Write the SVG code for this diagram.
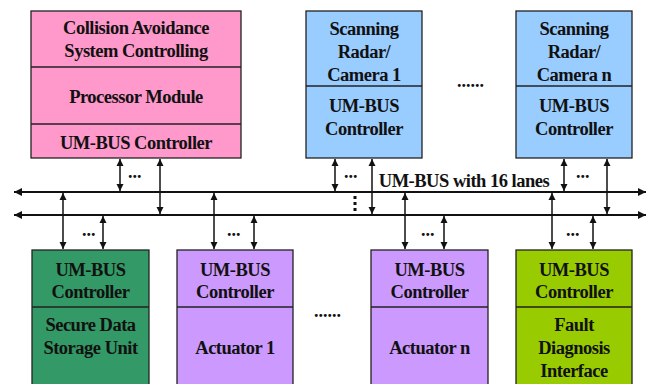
<svg xmlns="http://www.w3.org/2000/svg" width="654" height="384" viewBox="0 0 654 384">
  <style>
    .box { stroke: #222; stroke-width: 1.3; }
    .div { stroke: #222; stroke-width: 1.3; }
    .t { font-family: "Liberation Serif", "Times New Roman", serif; font-weight: bold; font-size: 18.5px; letter-spacing: -0.5px; fill: #111; text-anchor: middle; }
    .dots { font-family: "Liberation Serif", "Times New Roman", serif; font-weight: bold; font-size: 18px; fill: #111; }
    .link { stroke: #111; stroke-width: 1.5; fill: none; marker-start: url(#ah); marker-end: url(#ah); }
    .bus { stroke: #111; stroke-width: 2.2; fill: none; marker-start: url(#bh); marker-end: url(#bh); }
  </style>
  <defs>
    <marker id="ah" viewBox="0 0 10 10" refX="10" refY="5" markerUnits="userSpaceOnUse" markerWidth="7" markerHeight="8" orient="auto-start-reverse">
      <path d="M0,0 L10,5 L0,10 z" fill="#111"/>
    </marker>
    <marker id="bh" viewBox="0 0 10 10" refX="10" refY="5" markerUnits="userSpaceOnUse" markerWidth="10" markerHeight="8" orient="auto-start-reverse">
      <path d="M0,0 L10,5 L0,10 z" fill="#111"/>
    </marker>
  </defs>

  <rect width="654" height="384" fill="#fff"/>

  <!-- Top row -->
  <g id="collision-avoidance">
    <rect class="box" x="31" y="11" width="210" height="147" fill="#FF99CC"/>
    <line class="div" x1="31" y1="67" x2="241" y2="67"/>
    <line class="div" x1="31" y1="124" x2="241" y2="124"/>
    <text class="t" x="136" y="34">Collision Avoidance</text>
    <text class="t" x="136" y="57">System Controlling</text>
    <text class="t" x="136" y="103">Processor Module</text>
    <text class="t" x="136" y="149">UM-BUS Controller</text>
  </g>

  <g id="radar-1">
    <rect class="box" x="306" y="11" width="116" height="147" fill="#99CCFF"/>
    <line class="div" x1="306" y1="86" x2="422" y2="86"/>
    <text class="t" x="364" y="35">Scanning</text>
    <text class="t" x="364" y="58">Radar/</text>
    <text class="t" x="364" y="81">Camera 1</text>
    <text class="t" x="364" y="112">UM-BUS</text>
    <text class="t" x="364" y="135">Controller</text>
  </g>

  <g id="radar-n">
    <rect class="box" x="516" y="11" width="116" height="147" fill="#99CCFF"/>
    <line class="div" x1="516" y1="86" x2="632" y2="86"/>
    <text class="t" x="574" y="35">Scanning</text>
    <text class="t" x="574" y="58">Radar/</text>
    <text class="t" x="574" y="81">Camera n</text>
    <text class="t" x="574" y="112">UM-BUS</text>
    <text class="t" x="574" y="135">Controller</text>
  </g>

  <text class="dots" x="457" y="87">......</text>

  <!-- Bottom row -->
  <g id="secure-storage">
    <rect class="box" x="32" y="250" width="117" height="140" fill="#339966"/>
    <line class="div" x1="32" y1="307" x2="149" y2="307"/>
    <text class="t" x="90.5" y="276">UM-BUS</text>
    <text class="t" x="90.5" y="298">Controller</text>
    <text class="t" x="90.5" y="331">Secure Data</text>
    <text class="t" x="90.5" y="354">Storage Unit</text>
  </g>

  <g id="actuator-1">
    <rect class="box" x="177" y="250" width="116" height="140" fill="#CC99FF"/>
    <line class="div" x1="177" y1="307" x2="293" y2="307"/>
    <text class="t" x="235" y="276">UM-BUS</text>
    <text class="t" x="235" y="298">Controller</text>
    <text class="t" x="235" y="354">Actuator 1</text>
  </g>

  <g id="actuator-n">
    <rect class="box" x="371" y="250" width="117" height="140" fill="#CC99FF"/>
    <line class="div" x1="371" y1="307" x2="488" y2="307"/>
    <text class="t" x="429.5" y="276">UM-BUS</text>
    <text class="t" x="429.5" y="298">Controller</text>
    <text class="t" x="429.5" y="354">Actuator n</text>
  </g>

  <g id="fault-diagnosis">
    <rect class="box" x="516" y="250" width="116" height="140" fill="#99CC00"/>
    <line class="div" x1="516" y1="307" x2="632" y2="307"/>
    <text class="t" x="574" y="276">UM-BUS</text>
    <text class="t" x="574" y="298">Controller</text>
    <text class="t" x="574" y="331">Fault</text>
    <text class="t" x="574" y="354">Diagnosis</text>
    <text class="t" x="574" y="377">Interface</text>
  </g>

  <text class="dots" x="314" y="317">......</text>

  <!-- Bus and links -->
  <g id="connectors">
    <line class="bus" x1="14" y1="192" x2="646" y2="192"/>
    <line class="bus" x1="14" y1="215" x2="646" y2="215"/>
    <text class="t" x="464" y="187">UM-BUS with 16 lanes</text>
    <g fill="#111">
      <rect x="353.5" y="196" width="3" height="3"/>
      <rect x="353.5" y="202" width="3" height="3"/>
      <rect x="353.5" y="208" width="3" height="3"/>
    </g>

    <!-- upper nodes to bus -->
    <line class="link" x1="120" y1="159" x2="120" y2="191"/>
    <line class="link" x1="160" y1="159" x2="160" y2="214"/>
    <text class="dots" x="128" y="178">...</text>

    <line class="link" x1="335" y1="159" x2="335" y2="191"/>
    <line class="link" x1="372" y1="159" x2="372" y2="214"/>
    <text class="dots" x="344" y="178">...</text>

    <line class="link" x1="564" y1="159" x2="564" y2="191"/>
    <line class="link" x1="607" y1="159" x2="607" y2="214"/>
    <text class="dots" x="576" y="178">...</text>

    <!-- bus to lower nodes -->
    <line class="link" x1="63" y1="193" x2="63" y2="249"/>
    <line class="link" x1="103" y1="216" x2="103" y2="249"/>
    <text class="dots" x="82" y="236">...</text>

    <line class="link" x1="214" y1="193" x2="214" y2="249"/>
    <line class="link" x1="254" y1="216" x2="254" y2="249"/>
    <text class="dots" x="227" y="236">...</text>

    <line class="link" x1="405" y1="193" x2="405" y2="249"/>
    <line class="link" x1="444" y1="216" x2="444" y2="249"/>
    <text class="dots" x="421" y="236">...</text>

    <line class="link" x1="552" y1="193" x2="552" y2="249"/>
    <line class="link" x1="593" y1="216" x2="593" y2="249"/>
    <text class="dots" x="566" y="236">...</text>
  </g>
</svg>
